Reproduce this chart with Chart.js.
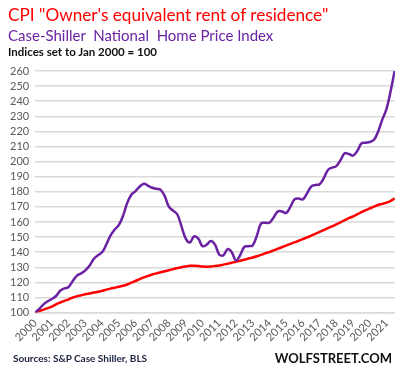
<!DOCTYPE html>
<html>
<head>
<meta charset="utf-8">
<script src="https://cdn.jsdelivr.net/npm/chart.js@4/dist/chart.umd.min.js"></script>
<style>
    html, body { margin: 0; padding: 0; background: #fff; }
    body { width: 400px; height: 378px; position: relative; overflow: hidden; font-family: Lato, "Open Sans", sans-serif; }
    #wrap { position: absolute; left: 0; top: 0; width: 400px; height: 378px; }
    .txt { position: absolute; white-space: nowrap; }
    #t1 { left: 8px; top: 5px; font-size: 17.2px; line-height: 20px; color: #ff0000; }
    #t2 { left: 8px; top: 26px; font-size: 15px; line-height: 18px; color: #6a22a3; }
    #t3 { left: 8px; top: 45px; font-size: 11.5px; line-height: 14px; font-weight: bold; color: #111; }
    #src { left: 13px; top: 351px; font-size: 10px; line-height: 14px; font-weight: bold; color: #1c2340; }
    #wolf { right: 8px; top: 350px; font-size: 13px; line-height: 16px; font-weight: bold; color: #111; }
</style>
</head>
<body>
<div id="wrap"><canvas id="homeChart" width="400" height="378"></canvas></div>
<div class="txt" id="t1">CPI "Owner's equivalent rent of residence"</div>
<div class="txt" id="t2">Case-Shiller&nbsp; National&nbsp; Home Price Index</div>
<div class="txt" id="t3">Indices set to Jan 2000 = 100</div>
<div class="txt" id="src">Sources: S&amp;P Case Shiller, BLS</div>
<div class="txt" id="wolf">WOLFSTREET.COM</div>

<script>
// quarterly readings, Jan 2000 .. mid 2021
const startYear = 2000;

const yearTicks = [2000, 2001, 2002, 2003, 2004, 2005, 2006, 2007, 2008, 2009, 2010,
    2011, 2012, 2013, 2014, 2015, 2016, 2017, 2018, 2019, 2020, 2021];

const yTicks = [100, 110, 120, 130, 140, 150, 160, 170, 180, 190, 200, 210, 220, 230, 240, 250, 260];

const hpi = [
    100, 102.5, 105.5, 107.5,
    109, 111, 114.5, 116,
    117, 121, 124.5, 126,
    128, 131, 135.5, 138,
    140, 145, 151, 155,
    158, 164, 172.5, 178,
    180.5, 183.5, 185.3, 184,
    182.7, 182, 181.3, 177,
    170, 167.5, 165, 157,
    149, 146.5, 150.5, 149,
    144, 145, 147.5, 145,
    138.5, 138, 142, 140,
    134.5, 138, 143.5, 144,
    144.5, 151, 159, 159.5,
    159.5, 163, 167, 167,
    166, 170, 175, 175.5,
    175, 179, 183.5, 184.5,
    185, 189, 194.5, 196,
    197, 201, 205.5, 205,
    204, 207, 212, 212.5,
    213, 214.5, 220, 228,
    235, 247, 261
];

const oer = [
    100, 101, 102, 103,
    104, 105.5, 106.7, 107.8,
    108.8, 110, 110.8, 111.5,
    112.2, 112.7, 113.3, 113.8,
    114.4, 115.2, 115.9, 116.5,
    117.1, 117.8, 118.6, 119.8,
    121, 122.2, 123.3, 124.3,
    125.2, 126, 126.7, 127.4,
    128.1, 128.8, 129.5, 130.1,
    130.6, 131, 131, 130.8,
    130.5, 130.4, 130.6, 130.9,
    131.2, 131.8, 132.4, 133,
    133.7, 134.4, 135, 135.8,
    136.5, 137.3, 138.2, 139.2,
    140.1, 141.2, 142.3, 143.3,
    144.4, 145.5, 146.5, 147.6,
    148.7, 149.8, 151, 152.2,
    153.4, 154.7, 156, 157.2,
    158.5, 159.8, 161.2, 162.5,
    163.8, 165.1, 166.5, 167.8,
    169, 170.2, 171.3, 172,
    172.8, 174, 175.7
];

function toPoints(arr){
    return arr.map((v, i) => ({ x: startYear + i / 4, y: v }));
}

const ctx = document.getElementById('homeChart');

new Chart(ctx, {
    type: 'line',
    data: {
        datasets: [{
            label: 'Case-Shiller',
            data: toPoints(hpi),
            borderColor: '#6a22a3',
            borderWidth: 2.5,
            pointRadius: 0,
            tension: 0.4
        }, {
            label: 'OER',
            data: toPoints(oer),
            borderColor: '#ff0000',
            borderWidth: 2.5,
            pointRadius: 0,
            tension: 0.4
        }]
    },
    options: {
        responsive: false,
        animation: false,
        layout: {
            padding: { top: 71, right: 5, bottom: 30, left: 4 }
        },
        plugins: {
            legend: { display: false },
            tooltip: { enabled: false }
        },
        scales: {
            x: {
                type: 'linear',
                min: startYear,
                max: startYear + (hpi.length - 1) / 4,
                afterBuildTicks: s => { s.ticks = yearTicks.map(v => ({ value: v })); },
                grid: { display: false, drawTicks: false },
                border: { display: true, color: '#d9d9d9', width: 1.5 },
                ticks: {
                    autoSkip: false,
                    minRotation: 45,
                    maxRotation: 45,
                    padding: 4,
                    color: '#595959',
                    font: { family: 'Lato', size: 11 },
                    callback: v => String(v)
                }
            },
            y: {
                min: 100,
                max: 260,
                afterBuildTicks: s => { s.ticks = yTicks.map(v => ({ value: v })); },
                grid: { color: '#d9d9d9', lineWidth: 1.5, drawTicks: false },
                border: { display: false },
                ticks: {
                    autoSkip: false,
                    padding: 6,
                    color: '#595959',
                    font: { family: 'Lato', size: 11 }
                }
            }
        }
    }
});
</script>
</body>
</html>
